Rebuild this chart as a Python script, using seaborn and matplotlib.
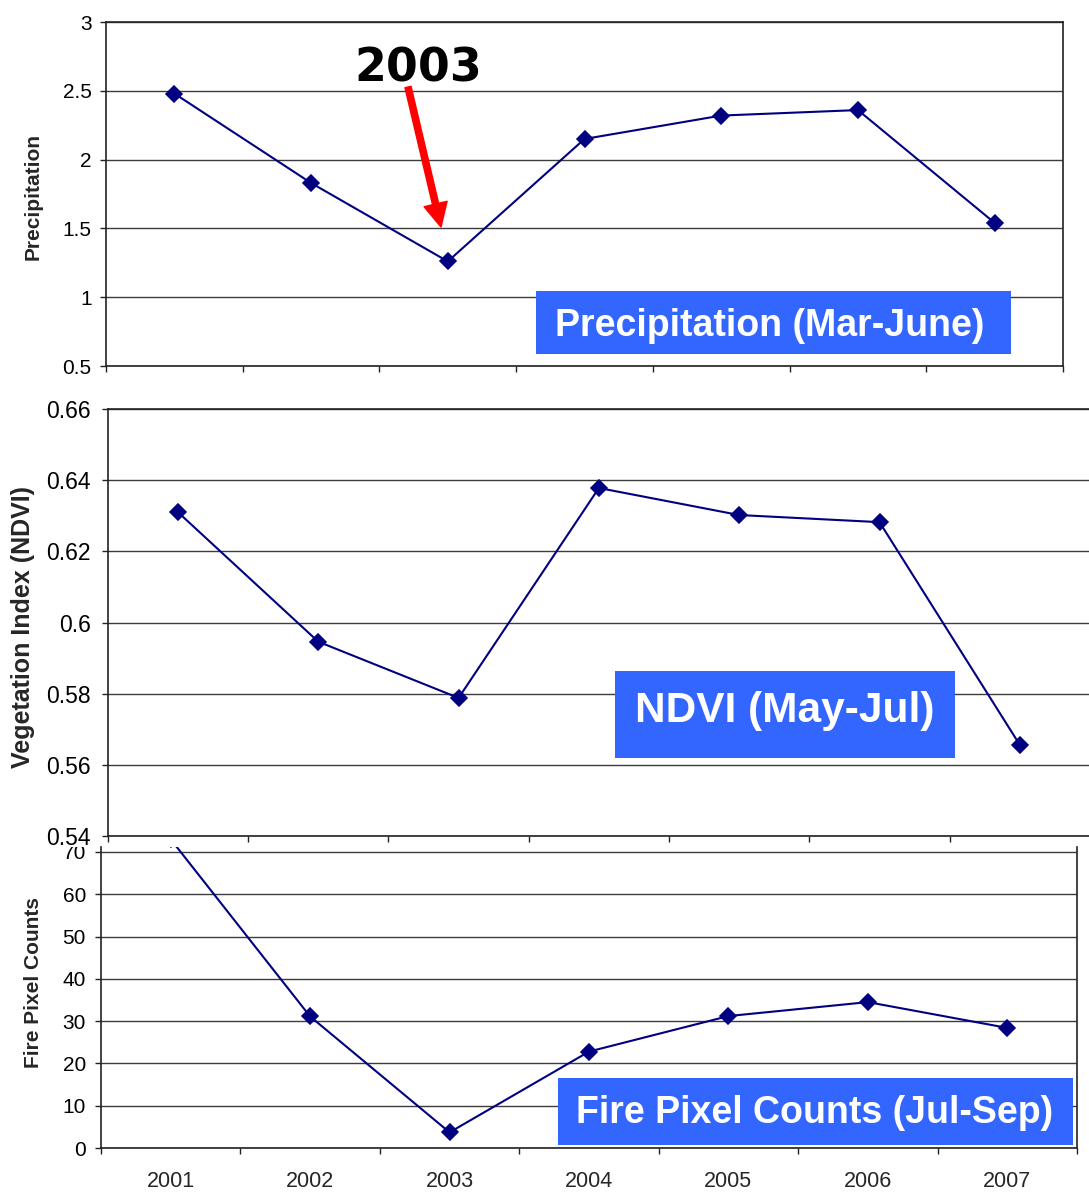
import matplotlib
matplotlib.use("Agg")
import matplotlib.pyplot as plt
import seaborn as sns
import pandas as pd
from matplotlib.patches import Rectangle, FancyArrowPatch
from matplotlib.ticker import FixedLocator, NullFormatter

# ---------------- data ----------------
years = ["2001", "2002", "2003", "2004", "2005", "2006", "2007"]
precip = [2.48, 1.83, 1.26, 2.15, 2.32, 2.36, 1.54]
ndvi = [0.631, 0.5946, 0.5788, 0.6378, 0.6302, 0.6282, 0.5656]
fire = [73.0, 31.1, 3.7, 22.8, 31.2, 34.5, 28.4]

precip_ticks = [0.5, 1, 1.5, 2, 2.5, 3]
precip_labels = ["0.5", "1", "1.5", "2", "2.5", "3"]
ndvi_ticks = [0.54, 0.56, 0.58, 0.60, 0.62, 0.64, 0.66]
ndvi_labels = ["0.54", "0.56", "0.58", "0.6", "0.62", "0.64", "0.66"]
fire_ticks = [0, 10, 20, 30, 40, 50, 60, 70]
fire_labels = ["0", "10", "20", "30", "40", "50", "60", "70"]

# ---------------- style ----------------
sns.set_style("white")
plt.rcParams["font.family"] = ["Liberation Sans", "DejaVu Sans"]

W, H = 1089, 1199
DPI = 100
fig = plt.figure(figsize=(W / DPI, H / DPI), dpi=DPI)
fig.patch.set_facecolor("white")


def rect(left, top, right, bottom):
    return [left / W, 1 - bottom / H, (right - left) / W, (bottom - top) / H]


def fx(x):
    return x / W


def fy(y):
    return 1 - y / H


LINE = "#000080"
GRID = "#3c3c3c"
BLUE = "#3366FF"

df = pd.DataFrame({"year": years, "precip": precip, "ndvi": ndvi, "fire": fire})

ax1 = fig.add_axes(rect(106, 22, 1063, 366), zorder=1)
ax2 = fig.add_axes(rect(107.8, 409, 1090, 836), zorder=1)
ax3 = fig.add_axes(rect(101, 847, 1077, 1148), zorder=0)

specs = [
    (ax1, "precip", (0.5, 3.0), precip_ticks, precip_labels, 15, 6.0),
    (ax2, "ndvi", (0.54, 0.66), ndvi_ticks, ndvi_labels, 16.5, 8),
    (ax3, "fire", (0, 71.18), fire_ticks, fire_labels, 15, 6.5),
]

for ax, col, ylim, ticks, labels, tsize, pad in specs:
    sns.pointplot(data=df, x="year", y=col, ax=ax, color=LINE, markers="D",
                  markersize=8.5, linewidth=1.5, errorbar=None)
    ax.set_facecolor("white")
    ax.set_xlim(-0.5, 6.5)
    ax.set_ylim(*ylim)
    ax.set_yticks(ticks)
    ax.set_yticklabels(labels, fontsize=tsize)
    ax.set_xlabel("")
    ax.set_ylabel("")
    ax.yaxis.grid(True, color=GRID, linewidth=1.0)
    ax.xaxis.grid(False)
    ax.set_axisbelow(True)
    # category boundaries as major ticks, labels at centres as minor ticks
    ax.xaxis.set_major_locator(FixedLocator([i - 0.5 for i in range(len(years) + 1)]))
    ax.xaxis.set_major_formatter(NullFormatter())
    ax.xaxis.set_minor_locator(FixedLocator(list(range(len(years)))))
    ax.tick_params(axis="x", which="major", direction="out", length=4.3, width=1.0,
                   color="#222222", bottom=True)
    ax.tick_params(axis="x", which="minor", length=0)
    ax.tick_params(axis="y", which="major", direction="out", length=4.3, width=1.0,
                   color="#222222", left=True, pad=pad, labelcolor="black")
    for s in ax.spines.values():
        s.set_color("#222222")
        s.set_linewidth(1.2)

# minor labels (years) only on the bottom panel
ax1.xaxis.set_minor_formatter(NullFormatter())
ax2.xaxis.set_minor_formatter(NullFormatter())
ax3.set_xticks(list(range(len(years))), minor=True)
ax3.set_xticklabels(years, minor=True, fontsize=15.5)
ax3.tick_params(axis="x", which="minor", pad=16.5)

ax2.spines["right"].set_visible(False)
ax3.spines["top"].set_visible(False)

# hide the top part of the cut-off "70" label like in the reference
fig.patches.append(Rectangle((fx(40), fy(847)), fx(58), fy(836.5) - fy(847),
                             transform=fig.transFigure, facecolor="white",
                             edgecolor="none", zorder=0.5))

# axis titles
fig.text(fx(33), fy(197), "Precipitation", rotation=90, ha="center", va="center",
         fontsize=15, fontweight="bold")
fig.text(fx(23), fy(627), "Vegetation Index (NDVI)", rotation=90, ha="center",
         va="center", fontsize=18, fontweight="bold")
fig.text(fx(34), fy(982), "Fire Pixel Counts", rotation=90, ha="center", va="center",
         fontsize=15, fontweight="bold")

# blue label boxes
boxes = [
    ((536, 291, 1011, 354), "Precipitation (Mar-June)", 770, 336, 27),
    ((615, 671, 955, 758), "NDVI (May-Jul)", 785, 722, 30.5),
    ((558, 1078, 1073, 1145), "Fire Pixel Counts (Jul-Sep)", 815, 1123, 27),
]
for (l, t, r, b), txt, cx, by, fs in boxes:
    fig.patches.append(Rectangle((fx(l), fy(b)), fx(r - l), fy(t) - fy(b),
                                 transform=fig.transFigure, facecolor=BLUE,
                                 edgecolor="none", zorder=2))
    fig.text(fx(cx), fy(by), txt, ha="center", va="baseline", color="white",
             fontsize=fs, fontweight="bold", zorder=3)

# "2003" annotation with red arrow
fig.text(fx(418), fy(82), "2003", ha="center", va="baseline", fontsize=33,
         fontweight="bold", family="DejaVu Sans", color="black", zorder=3)
arrow = FancyArrowPatch((fx(408), fy(87)), (fx(441), fy(227)),
                        transform=fig.transFigure,
                        arrowstyle="simple,head_length=1.7,head_width=1.7,tail_width=0.45",
                        mutation_scale=10, color="#FF0000", shrinkA=0, shrinkB=0,
                        zorder=3)
fig.patches.append(arrow)

fig.savefig("out.png", dpi=DPI, facecolor="white")
